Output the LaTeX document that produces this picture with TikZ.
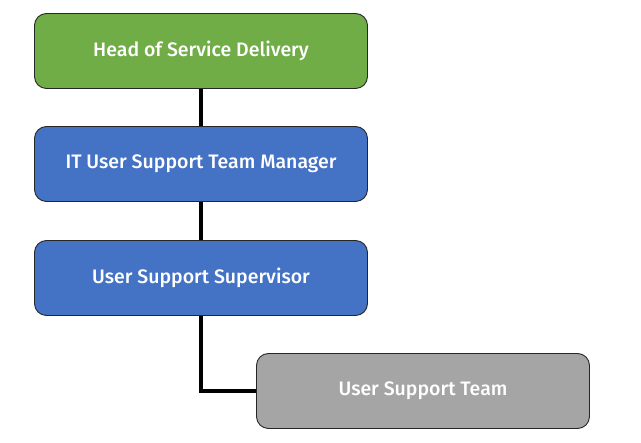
\documentclass[tikz,border=0pt]{standalone}
\usepackage{fontspec}
\setmainfont{Fira Sans}[BoldFont={Fira Sans Medium}]
\definecolor{leadgreen}{HTML}{70AD47}
\definecolor{teamblue}{HTML}{4472C4}
\definecolor{staffgray}{HTML}{A5A5A5}
\begin{document}
\begin{tikzpicture}[x=1pt,y=-1pt,
  orgbox/.style={draw=black!85, line width=0.9pt, rounded corners=12pt,
    minimum width=333pt, minimum height=75pt, inner sep=0pt,
    text=white, font=\fontsize{19.5}{22}\selectfont\bfseries},
  link/.style={line width=3.2pt, black}]
  \useasboundingbox (0,0) rectangle (641,443);
  % reporting chain, top to bottom
  \node[orgbox, fill=leadgreen] (head) at (201,51) {\raisebox{-1.5pt}{Head of Service Delivery}};
  \node[orgbox, fill=teamblue] (mgr) at (201,164) {\raisebox{-1.5pt}{IT User Support Team Manager}};
  \node[orgbox, fill=teamblue] (sup) at (201,278) {\raisebox{-1.5pt}{User Support Supervisor}};
  \node[orgbox, fill=staffgray] (team) at (423,391) {\raisebox{-1.5pt}{User Support Team}};
  \draw[link] (head.south) -- (mgr.north);
  \draw[link] (mgr.south) -- (sup.north);
  \draw[link] (sup.south) |- (team.west);
\end{tikzpicture}
\end{document}
